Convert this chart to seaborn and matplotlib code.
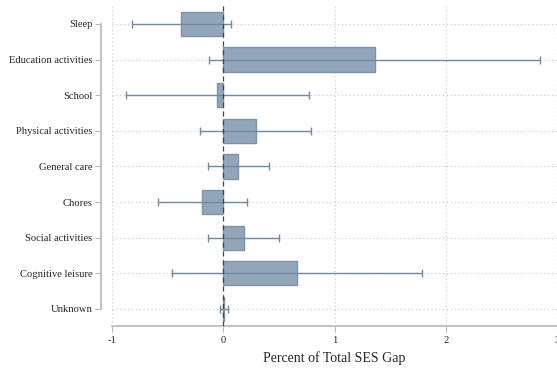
import numpy as np
import matplotlib
matplotlib.use("Agg")
import matplotlib.pyplot as plt
import seaborn as sns
import pandas as pd

# values
categories = ["Sleep", "Education activities", "School", "Physical activities",
              "General care", "Chores", "Social activities", "Cognitive leisure", "Unknown"]
share = [-0.38, 1.36, -0.055, 0.29, 0.135, -0.19, 0.185, 0.66, 0.003]
ci_low = [-0.82, -0.13, -0.87, -0.21, -0.14, -0.59, -0.14, -0.46, -0.03]
ci_high = [0.07, 2.85, 0.77, 0.79, 0.41, 0.21, 0.50, 1.79, 0.04]
xticks = [-1, 0, 1, 2, 3]

df = pd.DataFrame({"category": categories, "share": share,
                   "lo": ci_low, "hi": ci_high})

sns.set_style("white")
plt.rcParams["font.family"] = ["Liberation Serif", "DejaVu Serif"]

fig = plt.figure(figsize=(5.57, 3.70), dpi=100)
ax = fig.add_axes([112 / 557, 44 / 370, 445 / 557, 321 / 370])

fill = "#92a6ba"
edge = "#7e93aa"

sns.barplot(data=df, x="share", y="category", orient="h", color=fill,
            saturation=1, width=0.68, edgecolor=edge, linewidth=1.0, ax=ax, zorder=2)

ypos = np.arange(len(categories))
ax.errorbar(df["share"], ypos,
            xerr=[df["share"] - df["lo"], df["hi"] - df["share"]],
            fmt="none", ecolor="#7088a2", elinewidth=1.0, capsize=3, capthick=1.0, zorder=3)

ax.axvline(0, color="#444444", lw=0.9, ls=(0, (4, 3)), zorder=4)

ax.set_xlim(-1, 3)
ax.set_ylim(len(categories) - 0.52, -0.53)
ax.set_xticks(xticks)
ax.set_xticklabels([str(t) for t in xticks])

# dotted grid
for t in xticks:
    ax.axvline(t, color="#c8c8c8", lw=0.8, ls=(0, (1, 2.5)), zorder=0)
for y in ypos:
    ax.axhline(y, color="#c8c8c8", lw=0.8, ls=(0, (1, 2.5)), zorder=0)

for s in ["top", "right"]:
    ax.spines[s].set_visible(False)
ax.spines["left"].set_position(("outward", 8))
ax.spines["left"].set_bounds(0, len(categories) - 1)
ax.spines["bottom"].set_bounds(-1, 3)
for s in ["left", "bottom"]:
    ax.spines[s].set_color("#b8b8b8")
    ax.spines[s].set_linewidth(1.2)

ax.tick_params(axis="y", length=4, width=0.8, color="#b8b8b8", labelsize=7.6, pad=2, left=True)
ax.tick_params(axis="x", length=4, width=0.8, color="#b8b8b8", labelsize=7.6, pad=3, bottom=True)

ax.set_ylabel("")
ax.set_xlabel("Percent of Total SES Gap", fontsize=10, labelpad=5)

fig.savefig("out.png", dpi=100)
